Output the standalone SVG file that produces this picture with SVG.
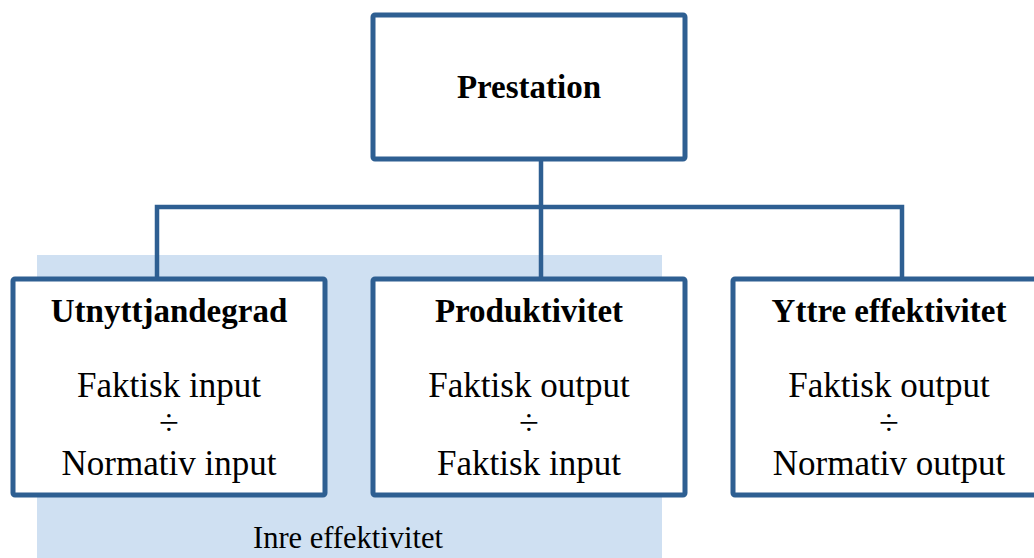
<svg xmlns="http://www.w3.org/2000/svg" width="1034" height="558" viewBox="0 0 1034 558">
<style>
.box{fill:#fff;stroke:#2E5F92;stroke-width:5;stroke-linejoin:round}
.conn{fill:none;stroke:#2E5F92;stroke-width:4.5}
text{font-family:"Liberation Serif","Times New Roman",serif;fill:#000;text-anchor:middle}
.t{font-weight:bold;font-size:33px}
.r{font-size:35px}
.d{font-size:36px}
.s{font-size:30.5px}
</style>
<rect id="inre" x="37" y="255" width="625" height="303" fill="#CFE0F2"/>
<g id="connectors">
<line class="conn" x1="541" y1="159" x2="541" y2="279"/>
<polyline class="conn" points="157,279 157,207 902,207 902,279"/>
</g>
<g id="prestation">
<rect class="box" x="373" y="15" width="312" height="144" rx="2"/>
<text class="t" x="529" y="98">Prestation</text>
</g>
<g id="utnyttjandegrad">
<rect class="box" x="13" y="279" width="312" height="216" rx="2"/>
<text class="t" x="169" y="322">Utnyttjandegrad</text>
<text class="r" x="169" y="397">Faktisk input</text>
<text class="d" x="169" y="435">÷</text>
<text class="r" x="169" y="475">Normativ input</text>
</g>
<g id="produktivitet">
<rect class="box" x="373" y="279" width="312" height="216" rx="2"/>
<text class="t" x="529" y="322">Produktivitet</text>
<text class="r" x="529" y="397">Faktisk output</text>
<text class="d" x="529" y="435">÷</text>
<text class="r" x="529" y="475">Faktisk input</text>
</g>
<g id="yttre">
<rect class="box" x="733" y="279" width="312" height="216" rx="2"/>
<text class="t" x="889" y="322">Yttre effektivitet</text>
<text class="r" x="889" y="397">Faktisk output</text>
<text class="d" x="889" y="435">÷</text>
<text class="r" x="889" y="475">Normativ output</text>
</g>
<text class="s" x="348" y="548">Inre effektivitet</text>
</svg>
